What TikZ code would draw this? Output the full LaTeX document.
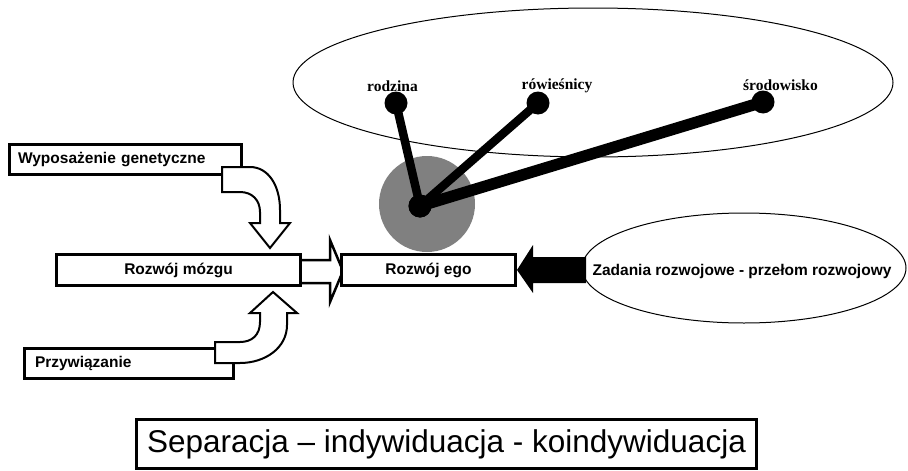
\documentclass[tikz,border=0pt]{standalone}
\usepackage{fontspec}
\setmainfont{Liberation Sans}
\newfontfamily\labelserif{Liberation Serif}
\usetikzlibrary{shapes.geometric}
\definecolor{hubgray}{RGB}{128,128,128}
\tikzset{
  stagebox/.style={draw, line width=3pt, fill=white, rectangle, inner ysep=0pt,
    font=\fontsize{15.5}{18}\selectfont\bfseries},
  ring/.style={draw, line width=1pt, ellipse, inner sep=0pt},
  dot/.style={circle, fill=black, inner sep=0pt, minimum size=23pt},
  tag/.style={font=\labelserif\fontsize{15.5}{18}\selectfont\bfseries, inner sep=0pt},
  spoke/.style={line width=8.5pt},
  bentarrow/.style={draw, fill=white, line width=2pt, line join=miter},
}
\begin{document}
\begin{tikzpicture}[x=1pt, y=-1pt]
\useasboundingbox (0,0) rectangle (908,471);

% social environment
\node[ring, minimum width=600pt, minimum height=149pt] (env) at (593,82.5) {};
\fill[hubgray] (427,204) circle (48pt);
\coordinate (halo) at (427,204);

\node[dot] (rodz) at (396,103) {};
\node[dot] (rowi) at (538,103) {};
\node[dot] (srod) at (763,102) {};
\node[dot] (hub) at (420,206) {};
\draw[spoke] (hub.center) -- (rodz.center);
\draw[spoke] (hub.center) -- (rowi.center);
\draw[spoke, line width=11.5pt] (hub.center) -- (srod.center);
\node[dot] at (hub) {};

\node[tag] (lrodz) at (392.5,86) {rodzina};
\node[tag] (lrowi) at (557,86) {rówieśnicy};
\node[tag] (lsrod) at (780.5,85) {środowisko};

% developmental tasks
\node[ring, minimum width=324pt, minimum height=110pt,
      font=\fontsize{15.5}{18}\selectfont\bfseries] (zad) at (744,268) {};
\node[font=\fontsize{15.5}{18}\selectfont\bfseries, inner sep=0pt] (zadtxt) at (742,271)
  {Zadania rozwojowe - przełom rozwojowy};

% input boxes
\node[stagebox, minimum width=232pt, minimum height=30pt, text width=215pt,
      inner xsep=8.5pt, align=left] (gen) at (125.5,159.5) {Wyposażenie genetyczne};
\node[stagebox, minimum width=209pt, minimum height=30pt, text width=188pt,
      inner xsep=10.5pt, align=left] (przy) at (129,363.5) {Przywiązanie};

% bent arrows into brain development
\path[bentarrow] (222,167) -- (250,167) .. controls (268,167) and (280,185) .. (280,210)
  -- (280,223) -- (290,223) -- (270,248) -- (250,223) -- (260,223) -- (260,212)
  .. controls (260,200) and (252,192) .. (240,192) -- (222,192) -- cycle;
\path[bentarrow] (215,342) -- (240,342) .. controls (252,342) and (260,335) .. (260,322)
  -- (260,313) -- (250,313) -- (273,292) -- (297,313) -- (287,313) -- (287,325)
  .. controls (287,348) and (265,363) .. (240,363) -- (215,363) -- cycle;

% brain -> ego
\path[bentarrow, line width=2.5pt] (300,260) -- (330,260) -- (330,240) -- (343,271)
  -- (330,302) -- (330,283) -- (300,283) -- cycle;

\node[stagebox, minimum width=244pt, minimum height=31pt] (mozg) at (178.5,270) {Rozwój mózgu};
\node[stagebox, minimum width=174pt, minimum height=31pt] (ego) at (428.5,270) {Rozwój ego};

% tasks -> ego
\fill[black] (586,257) -- (533,257) -- (533,245) -- (517,270) -- (533,293) -- (533,283)
  -- (586,283) -- cycle;

% caption
\node[draw, line width=2.5pt, minimum width=620pt, minimum height=49pt, inner sep=0pt,
      font=\fontsize{31.5}{36}\selectfont] (sep) at (446.5,444)
  {Separacja – indywiduacja - koindywiduacja};
\end{tikzpicture}
\end{document}
